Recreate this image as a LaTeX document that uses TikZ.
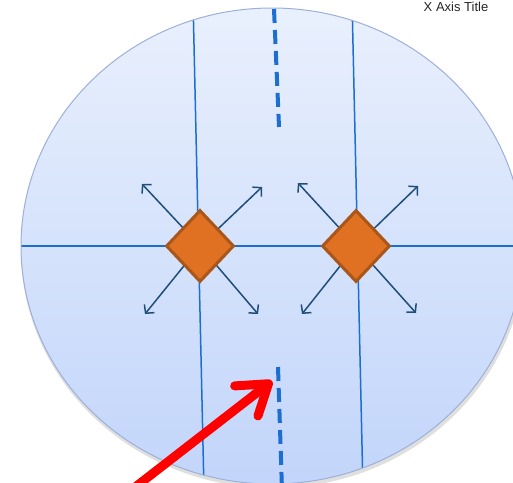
\documentclass[tikz,border=0pt]{standalone}
\usepackage{fontspec}
\setmainfont{Liberation Sans}
\usetikzlibrary{shapes.geometric,arrows.meta}
\definecolor{disktop}{HTML}{E9F0FD}
\definecolor{diskbot}{HTML}{C2D5FA}
\definecolor{diskrim}{HTML}{9DB0D8}
\definecolor{gridblue}{HTML}{1C6FD0}
\definecolor{arrblue}{HTML}{1F4E79}
\definecolor{diafill}{HTML}{E07022}
\definecolor{diadraw}{HTML}{A9561A}
\tikzset{
  grid/.style={draw=gridblue, line width=1.5pt},
  dashline/.style={draw=gridblue, line width=4pt, dash pattern=on 14pt off 7pt},
  dia/.style={diamond, fill=diafill, draw=diadraw, line width=3pt, minimum width=68pt, minimum height=72pt, inner sep=0pt},
  spread/.style={draw=arrblue, line width=1.5pt, -{Straight Barb[length=6pt,width=13pt]}},
  pointer/.style={draw=red, line width=9pt, line cap=round, -{Straight Barb[length=28pt,width=38pt,round]}}
}
\begin{document}
\begin{tikzpicture}[x=1pt,y=-1pt]
\useasboundingbox (0,0) rectangle (513,482);
\clip (0,0) rectangle (513,482);
% shadow
\fill[black!25, opacity=0.5] (273,250) ellipse [x radius=252pt, y radius=238pt];
% disk
\shade[top color=disktop, bottom color=diskbot] (272,246) ellipse [x radius=251pt, y radius=238pt];
\begin{scope}
\clip (272,246) ellipse [x radius=251pt, y radius=238pt];
\coordinate (v1a) at (193,0); \coordinate (v1b) at (204,490);
\coordinate (v2a) at (352,0); \coordinate (v2b) at (363,490);
\coordinate (ha) at (0,246); \coordinate (hb) at (530,246);
\draw[grid] (v1a) -- (v1b);
\draw[grid] (v2a) -- (v2b);
\draw[grid] (ha) -- (hb);
\end{scope}
\draw[diskrim, line width=1pt] (272,246) ellipse [x radius=251pt, y radius=238pt];
% dashed lines
\coordinate (t1) at (274,9); \coordinate (t2) at (279,127);
\coordinate (b1) at (278,367); \coordinate (b2) at (282,490);
\draw[dashline] (t1) -- (t2);
\draw[dashline] (b1) -- (b2);
% arrows from diamonds
\coordinate (d1c) at (200,246); \coordinate (d2c) at (356,246);
\coordinate (p1) at (142,184); \coordinate (p2) at (262,187);
\coordinate (p3) at (145,314); \coordinate (p4) at (258,314);
\coordinate (q1) at (298,183); \coordinate (q2) at (418,186);
\coordinate (q3) at (302,314); \coordinate (q4) at (416,313);
\foreach \t in {p1,p2,p3,p4} \draw[spread] (d1c) -- (\t);
\foreach \t in {q1,q2,q3,q4} \draw[spread] (d2c) -- (\t);
\node[dia] (d1) at (d1c) {};
\node[dia] (d2) at (d2c) {};
% red pointer
\coordinate (r0) at (134,488); \coordinate (r1) at (272,381);
\draw[pointer] (r0) -- (r1);
% title
\node[anchor=base, font=\fontsize{13pt}{15pt}\selectfont, text=black!85, inner sep=0pt] (xt) at (456,11) {X Axis Title};
\end{tikzpicture}
\end{document}
